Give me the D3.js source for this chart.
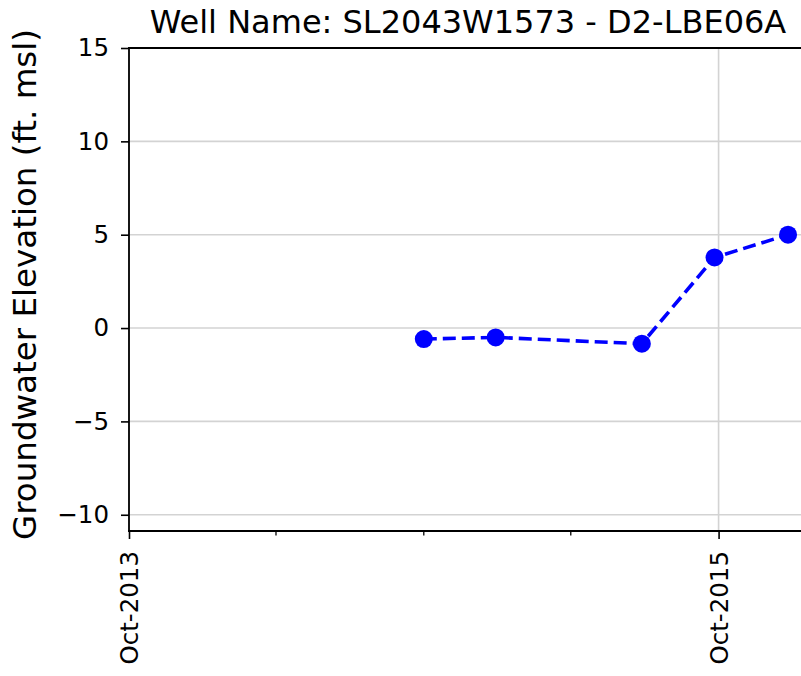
<!DOCTYPE html>
<html>
<head>
<meta charset="utf-8">
<script src="https://cdn.jsdelivr.net/npm/d3@7"></script>
<style>
  html, body { margin: 0; padding: 0; background: #fff; }
  svg { display: block; font-family: "DejaVu Sans", sans-serif; }
</style>
</head>
<body>
<svg id="chart" width="801" height="676"></svg>
<script>
// ---- data ----
const title = "Well Name: SL2043W1573 - D2-LBE06A";
const yLabel = "Groundwater Elevation (ft. msl)";
const sampleDates = ["2014-10-01", "2014-12-29", "2015-06-28", "2015-09-26", "2015-12-26"];
const elevations = [-0.59, -0.50, -0.84, 3.78, 5.0];
const yTicks = [-10, -5, 0, 5, 10, 15];
const xMajorTicks = ["2013-10-01", "2015-10-01"];
const xMinorTicks = ["2014-04-01", "2014-10-01", "2015-04-01"];
const xDomain = ["2013-10-01", "2016-01-16"];
const yDomain = [-10.87, 15];

// ---- layout ----
const svg = d3.select("#chart");
const mLeft = 129, mRight = 805, mTop = 48, mBottom = 531;
const parse = d3.utcParse("%Y-%m-%d");
const fmt = d3.utcFormat("%b-%Y");

const x = d3.scaleUtc().domain(xDomain.map(parse)).range([mLeft, mRight]);
const y = d3.scaleLinear().domain(yDomain).range([mBottom, mTop]);

const gridColor = "#d3d3d3";

// horizontal grid
svg.append("g").selectAll("line").data(yTicks).join("line")
  .attr("x1", mLeft).attr("x2", mRight)
  .attr("y1", d => y(d)).attr("y2", d => y(d))
  .attr("stroke", gridColor).attr("stroke-width", 1.6);

// vertical grid at major ticks
svg.append("g").selectAll("line").data(xMajorTicks.map(parse)).join("line")
  .attr("x1", d => x(d)).attr("x2", d => x(d))
  .attr("y1", mTop).attr("y2", mBottom)
  .attr("stroke", gridColor).attr("stroke-width", 1.6);

// data line
const pts = sampleDates.map((d, i) => ({ date: parse(d), v: elevations[i] }));
svg.append("path").datum(pts)
  .attr("fill", "none").attr("stroke", "#0000ff")
  .attr("stroke-width", 3.6)
  .attr("stroke-dasharray", "13,6")
  .attr("d", d3.line().x(d => x(d.date)).y(d => y(d.v)));

svg.append("g").selectAll("circle").data(pts).join("circle")
  .attr("cx", d => x(d.date)).attr("cy", d => y(d.v))
  .attr("r", 9).attr("fill", "#0000ff");

// y axis
const yAxis = d3.axisLeft(y).tickValues(yTicks)
  .tickFormat(d => d < 0 ? "\u2212" + Math.abs(d) : d)
  .tickSize(8).tickPadding(12);
const gy = svg.append("g").attr("transform", `translate(${mLeft},0)`).call(yAxis);
gy.select(".domain").remove();
gy.selectAll(".tick line").attr("stroke", "#000").attr("stroke-width", 1.6);
gy.selectAll(".tick text").attr("font-size", 24.5).attr("fill", "#000")
  .attr("font-family", "DejaVu Sans");

// x axis major
const xAxis = d3.axisBottom(x).tickValues(xMajorTicks.map(parse))
  .tickFormat(fmt).tickSize(8).tickPadding(6);
const gx = svg.append("g").attr("transform", `translate(0,${mBottom})`).call(xAxis);
gx.select(".domain").remove();
gx.selectAll(".tick line").attr("stroke", "#000").attr("stroke-width", 1.6);
gx.selectAll(".tick text")
  .attr("font-size", 24.5).attr("fill", "#000").attr("font-family", "DejaVu Sans")
  .attr("transform", "rotate(-90)")
  .attr("text-anchor", "end")
  .attr("x", -20).attr("y", 0).attr("dy", "0.35em");

// x axis minor
svg.append("g").selectAll("line").data(xMinorTicks.map(parse)).join("line")
  .attr("x1", d => x(d)).attr("x2", d => x(d))
  .attr("y1", mBottom).attr("y2", mBottom + 4.5)
  .attr("stroke", "#000").attr("stroke-width", 1.3);

// spines
svg.append("line").attr("x1", mLeft).attr("x2", mLeft).attr("y1", mTop).attr("y2", mBottom)
  .attr("stroke", "#000").attr("stroke-width", 1.8).attr("stroke-linecap", "square");
svg.append("line").attr("x1", mLeft).attr("x2", mRight).attr("y1", mBottom).attr("y2", mBottom)
  .attr("stroke", "#000").attr("stroke-width", 1.8).attr("stroke-linecap", "square");
svg.append("line").attr("x1", mLeft).attr("x2", mRight).attr("y1", mTop).attr("y2", mTop)
  .attr("stroke", "#000").attr("stroke-width", 1.8).attr("stroke-linecap", "square");

// title
svg.append("text").attr("x", 468).attr("y", 33)
  .attr("text-anchor", "middle").attr("font-size", 32).attr("fill", "#000")
  .text(title);

// y label
svg.append("text")
  .attr("transform", `translate(36,284.5) rotate(-90)`)
  .attr("text-anchor", "middle").attr("font-size", 32.5).attr("fill", "#000")
  .text(yLabel);
</script>
</body>
</html>
